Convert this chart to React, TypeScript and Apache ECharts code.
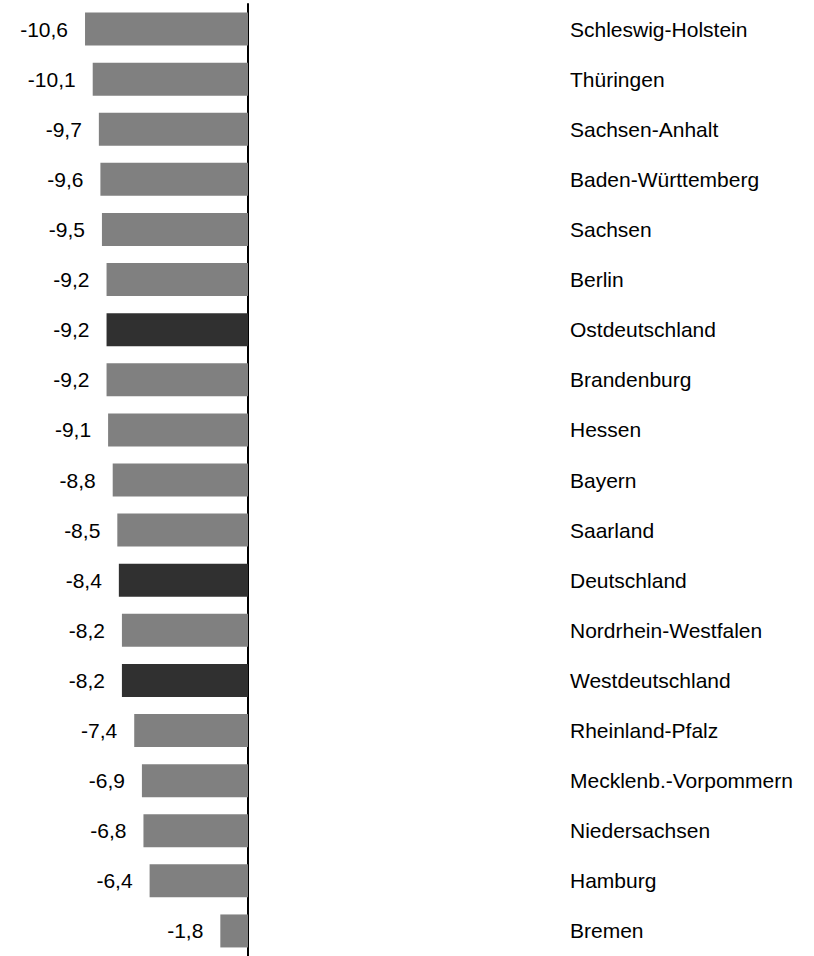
import React, { useEffect, useRef } from "react";
import * as echarts from "echarts";

const categories = [
  "Schleswig-Holstein",
  "Thüringen",
  "Sachsen-Anhalt",
  "Baden-Württemberg",
  "Sachsen",
  "Berlin",
  "Ostdeutschland",
  "Brandenburg",
  "Hessen",
  "Bayern",
  "Saarland",
  "Deutschland",
  "Nordrhein-Westfalen",
  "Westdeutschland",
  "Rheinland-Pfalz",
  "Mecklenb.-Vorpommern",
  "Niedersachsen",
  "Hamburg",
  "Bremen",
];

const values = [
  -10.6, -10.1, -9.7, -9.6, -9.5, -9.2, -9.2, -9.2, -9.1, -8.8, -8.5, -8.4,
  -8.2, -8.2, -7.4, -6.9, -6.8, -6.4, -1.8,
];

const highlighted = ["Ostdeutschland", "Deutschland", "Westdeutschland"];

const FONT = "Arial, 'Liberation Sans', Helvetica, sans-serif";

export default function App() {
  const ref = useRef<HTMLDivElement>(null);
  useEffect(() => {
    if (!ref.current) return;
    const chart = echarts.init(ref.current, null, { renderer: "svg" });
    chart.setOption({
      animation: false,
      backgroundColor: "#ffffff",
      grid: { left: 2, width: 246, top: 4, height: 956, containLabel: false },
      xAxis: {
        type: "value",
        min: -16,
        max: 0,
        show: false,
        splitLine: { show: false },
      },
      yAxis: {
        type: "category",
        data: categories,
        inverse: true,
        position: "right",
        axisLine: { show: true, lineStyle: { color: "#000000", width: 2 } },
        axisTick: { show: false },
        splitLine: { show: false },
        axisLabel: {
          margin: 322,
          align: "left",
          color: "#000000",
          fontSize: 21,
          fontFamily: FONT,
        },
      },
      series: [
        {
          type: "bar",
          barWidth: 33,
          data: values.map((v, i) => ({
            value: v,
            itemStyle: {
              color: highlighted.includes(categories[i]) ? "#303030" : "#808080",
            },
          })),
          label: {
            show: true,
            position: "left",
            distance: 17,
            color: "#000000",
            fontSize: 21,
            fontFamily: FONT,
            formatter: (p: any) => p.value.toFixed(1).replace(".", ","),
          },
        },
      ],
    });
    return () => chart.dispose();
  }, []);
  return (
    <div
      ref={ref}
      style={{ position: "fixed", left: 0, top: 0, width: 814, height: 956 }}
    />
  );
}
